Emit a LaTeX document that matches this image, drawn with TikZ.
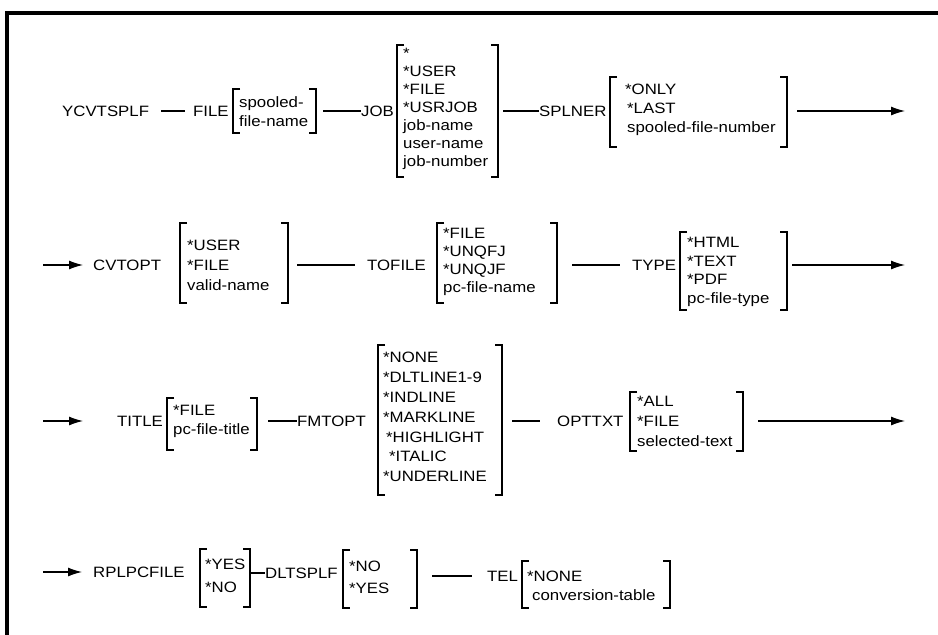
\documentclass[tikz,border=0pt]{standalone}
\usepackage{fontspec}
\setmainfont{Liberation Sans}[FakeStretch=1.12]
\usetikzlibrary{arrows.meta,fit}
\newcommand\drawbrackets[1]{%
 \draw[brk] ([xshift=7pt]#1.north west) -- (#1.north west) -- (#1.south west) -- ([xshift=7pt]#1.south west);
 \draw[brk] ([xshift=-7pt]#1.north east) -- (#1.north east) -- (#1.south east) -- ([xshift=-7pt]#1.south east);}
\begin{document}
\begin{tikzpicture}[x=1pt,y=-1pt,
  kw/.style={anchor=west, inner sep=0pt, text height=10.7pt, text depth=0pt, font=\fontsize{15}{18}\selectfont},
  it/.style={kw},
  bx/.style={inner sep=0pt, outer sep=0pt},
  ln/.style={line width=1.2pt},
  arr/.style={line width=1.2pt, -{Latex[length=14pt,width=9pt]}},
  brk/.style={line width=1.4pt},
]
\useasboundingbox (0,0) rectangle (938,635);
\draw[line width=4pt] (7,635) -- (7,13) -- (938,13);

% Row 1
\node[kw] (ycv) at (62,111) {YCVTSPLF};
\node[kw] (file) at (193,111) {FILE};
\node[bx, fit={(233,89)(316,133)}] (spb) {};
\node[it] (sp1) at (239,102) {spooled-};
\node[it] (sp2) at (239,121) {file-name};
\node[kw] (job) at (361,111) {JOB};
\node[bx, fit={(397,45)(498,177)}] (jobb) {};
\node[it] (j1) at (403,53) {*};
\node[it] (j2) at (403,71) {*USER};
\node[it] (j3) at (403,89) {*FILE};
\node[it] (j4) at (403,107) {*USRJOB};
\node[it] (j5) at (403,125) {job-name};
\node[it] (j6) at (403,143) {user-name};
\node[it] (j7) at (403,161) {job-number};
\node[kw] (spl) at (539,111) {SPLNER};
\node[bx, fit={(610,77)(787,147)}] (splb) {};
\node[it] (s1) at (625,89) {*ONLY};
\node[it] (s2) at (627,108) {*LAST};
\node[it] (s3) at (627,127) {spooled-file-number};
\coordinate (e1) at (905,111);
\drawbrackets{spb}
\drawbrackets{jobb}
\drawbrackets{splb}
\draw[ln, shorten <=12pt, shorten >=8pt] (ycv.east) -- (file.west);
\draw[ln, shorten <=7pt] (spb.east |- job.west) -- (job.west);
\draw[ln, shorten <=5pt] (jobb.east |- spl.west) -- (spl.west);
\draw[arr, shorten <=10pt] (splb.east |- e1) -- (e1);

% Row 2
\coordinate (st2) at (43,265);
\node[kw] (cvt) at (93,265) {CVTOPT};
\node[bx, fit={(180,223)(288,303)}] (cvtb) {};
\node[it] (c1) at (187,245) {*USER};
\node[it] (c2) at (187,265) {*FILE};
\node[it] (c3) at (187,285) {valid-name};
\node[kw] (tof) at (367,265) {TOFILE};
\node[bx, fit={(437,223)(557,303)}] (tofb) {};
\node[it] (t1) at (443,233) {*FILE};
\node[it] (t2) at (443,251) {*UNQFJ};
\node[it] (t3) at (443,269) {*UNQJF};
\node[it] (t4) at (443,287) {pc-file-name};
\node[kw] (typ) at (632,265) {TYPE};
\node[bx, fit={(680,232)(787,310)}] (typb) {};
\node[it] (y1) at (687,242) {*HTML};
\node[it] (y2) at (687,261) {*TEXT};
\node[it] (y3) at (687,279) {*PDF};
\node[it] (y4) at (687,298) {pc-file-type};
\coordinate (e2) at (905,265);
\drawbrackets{cvtb}
\drawbrackets{tofb}
\drawbrackets{typb}
\draw[arr, shorten >=10pt] (st2) -- (cvt.west);
\draw[ln, shorten <=9pt, shorten >=12pt] (cvtb.east |- tof.west) -- (tof.west);
\draw[ln, shorten <=15pt, shorten >=12pt] (tofb.east |- typ.west) -- (typ.west);
\draw[arr, shorten <=5pt] (typb.east |- e2) -- (e2);

% Row 3
\coordinate (st3) at (43,421);
\node[kw] (tit) at (117,421) {TITLE};
\node[bx, fit={(167,398)(257,450)}] (titb) {};
\node[it] (i1) at (173,410) {*FILE};
\node[it] (i2) at (173,429) {pc-file-title};
\node[kw] (fmt) at (297,421) {FMTOPT};
\node[bx, fit={(378,345)(502,495)}] (fmtb) {};
\node[it] (f1) at (383,357) {*NONE};
\node[it] (f2) at (383,377) {*DLTLINE1-9};
\node[it] (f3) at (383,397) {*INDLINE};
\node[it] (f4) at (383,417) {*MARKLINE};
\node[it] (f5) at (386,437) {*HIGHLIGHT};
\node[it] (f6) at (389,456) {*ITALIC};
\node[it] (f7) at (383,476) {*UNDERLINE};
\node[kw] (opt) at (557,421) {OPTTXT};
\node[bx, fit={(630,392)(743,451)}] (optb) {};
\node[it] (o1) at (637,401) {*ALL};
\node[it] (o2) at (637,421) {*FILE};
\node[it] (o3) at (637,441) {selected-text};
\coordinate (e3) at (905,421);
\drawbrackets{titb}
\drawbrackets{fmtb}
\drawbrackets{optb}
\draw[arr, shorten >=34pt] (st3) -- (tit.west);
\draw[ln, shorten <=11pt] (titb.east |- fmt.west) -- (fmt.west);
\draw[ln, shorten <=10pt, shorten >=17pt] (fmtb.east |- opt.west) -- (opt.west);
\draw[arr, shorten <=15pt] (optb.east |- e3) -- (e3);

% Row 4
\coordinate (st4) at (43,572);
\node[kw] (rpl) at (93,572) {RPLPCFILE};
\node[bx, fit={(200,549)(250,607)}] (rplb) {};
\node[it] (r1) at (205,564) {*YES};
\node[it] (r2) at (205,587) {*NO};
\node[kw] (dlt) at (265,573) {DLTSPLF};
\node[bx, fit={(343,550)(417,608)}] (dltb) {};
\node[it] (d1) at (349,566) {*NO};
\node[it] (d2) at (349,588) {*YES};
\node[kw] (tel) at (487,576) {TEL};
\node[bx, fit={(522,561)(670,608)}] (telb) {};
\node[it] (l1) at (527,576) {*NONE};
\node[it] (l2) at (532,595) {conversion-table};
\drawbrackets{rplb}
\drawbrackets{dltb}
\drawbrackets{telb}
\draw[arr, shorten >=11pt] (st4) -- (rpl.west);
\draw[ln, shorten <=1pt] (rplb.east |- dlt.west) -- (dlt.west);
\draw[ln, shorten <=15pt, shorten >=15pt] (dltb.east |- tel.west) -- (tel.west);
\end{tikzpicture}
\end{document}
